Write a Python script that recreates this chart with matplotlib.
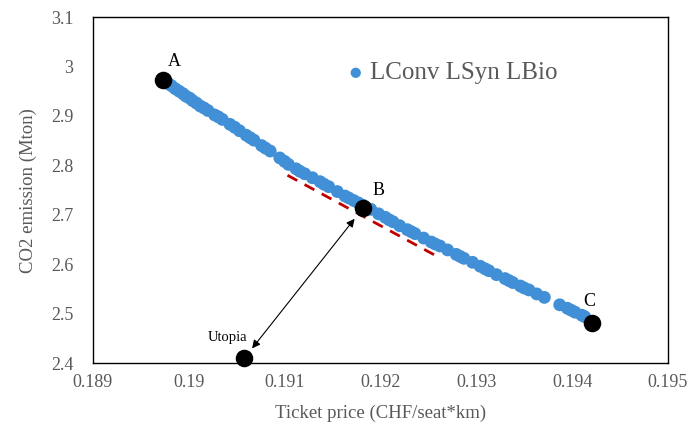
import matplotlib
matplotlib.use("Agg")
import matplotlib.pyplot as plt

plt.rcParams['font.family'] = ['Liberation Serif', 'DejaVu Serif']

# Pareto front points (LConv LSyn LBio)
price = [0.18975, 0.18979, 0.18982, 0.18986, 0.18990, 0.18994, 0.18997,
         0.19001, 0.19004, 0.19008, 0.19012,
         0.19016, 0.19020, 0.19027, 0.19031, 0.19035, 0.19043, 0.19048, 0.19053,
         0.19060, 0.19064, 0.19068, 0.19076, 0.19080, 0.19085, 0.19095,
         0.19100, 0.19104, 0.19112, 0.19116, 0.19121, 0.19129, 0.19137,
         0.19141, 0.19146, 0.19155, 0.19163, 0.19167, 0.19172, 0.19177, 0.19182,
         0.19190, 0.19198, 0.19205, 0.19209, 0.19213, 0.19220,
         0.19228, 0.19232, 0.19236, 0.19245, 0.19253, 0.19257, 0.19262,
         0.19270, 0.19279, 0.19283, 0.19287, 0.19296, 0.19304,
         0.19309, 0.19313, 0.19321, 0.19330, 0.19334, 0.19338, 0.19346,
         0.19350, 0.19355, 0.19363, 0.19371, 0.19387, 0.19395,
         0.19399, 0.19403, 0.19410, 0.19413]
emission = [2.969, 2.965, 2.961, 2.955, 2.950, 2.945, 2.940,
            2.936, 2.931, 2.926, 2.920,
            2.916, 2.911, 2.902, 2.898, 2.893, 2.883, 2.877, 2.870,
            2.861, 2.856, 2.851, 2.840, 2.835, 2.829, 2.815,
            2.808, 2.802, 2.793, 2.788, 2.783, 2.775, 2.767,
            2.762, 2.757, 2.747, 2.738, 2.734, 2.729, 2.724, 2.719,
            2.711, 2.702, 2.695, 2.690, 2.686, 2.678,
            2.670, 2.666, 2.662, 2.653, 2.645, 2.641, 2.637,
            2.629, 2.620, 2.616, 2.612, 2.604, 2.596,
            2.591, 2.587, 2.579, 2.571, 2.567, 2.563, 2.556,
            2.552, 2.548, 2.540, 2.533, 2.518, 2.511,
            2.507, 2.503, 2.497, 2.494]

# special points
pt_x = [0.18973, 0.19182, 0.19421, 0.19058]
pt_y = [2.973, 2.714, 2.481, 2.410]

# tangent line at B
tan_x = [0.19103, 0.19260]
tan_y = [2.780, 2.615]

blue = "#418fd6"
gray = "#595959"

fig = plt.figure(figsize=(6.88, 4.37), dpi=100)
ax = fig.add_axes([0.135, 0.169, 0.836, 0.792])

ax.scatter(price, emission, s=85, color=blue, edgecolors="none",
           label="LConv LSyn LBio", zorder=3)
ax.plot(tan_x, tan_y, color="#c00000", linestyle=(0, (4, 3)), linewidth=2, zorder=2)
ax.scatter(pt_x, pt_y, s=135, color="black", zorder=4, clip_on=False)

# double arrow between utopia and B
ax.annotate("", xy=(pt_x[1], pt_y[1]), xytext=(pt_x[3], pt_y[3]),
            arrowprops=dict(arrowstyle="<|-|>", color="black", lw=0.8,
                            shrinkA=9, shrinkB=10, mutation_scale=12),
            zorder=5)

ax.text(0.18985, 3.010, "A", fontsize=13, ha="center", va="center")
ax.text(0.19198, 2.750, "B", fontsize=13, ha="center", va="center")
ax.text(0.19418, 2.525, "C", fontsize=13, ha="center", va="center")
ax.text(0.19040, 2.451, "Utopia", fontsize=10.5, ha="center", va="center")

ax.set_xlim(0.189, 0.195)
ax.set_ylim(2.4, 3.1)
ax.set_xticks([0.189, 0.19, 0.191, 0.192, 0.193, 0.194, 0.195])
ax.set_xticklabels(["0.189", "0.19", "0.191", "0.192", "0.193", "0.194", "0.195"])
ax.set_yticks([2.4, 2.5, 2.6, 2.7, 2.8, 2.9, 3.0, 3.1])
ax.set_yticklabels(["2.4", "2.5", "2.6", "2.7", "2.8", "2.9", "3", "3.1"])
ax.tick_params(axis="both", length=0, labelsize=13, labelcolor=gray)
ax.tick_params(axis="x", pad=8)
ax.tick_params(axis="y", pad=14)

for sp in ax.spines.values():
    sp.set_color("black")
    sp.set_linewidth(1.0)

ax.set_xlabel("Ticket price (CHF/seat*km)", fontsize=13.5, color=gray)
ax.set_ylabel("CO2 emission (Mton)", fontsize=13.5, color=gray)
ax.xaxis.set_label_coords(0.5, -0.12)
ax.yaxis.set_label_coords(-0.097, 0.5)

ax.legend(loc="center left", bbox_to_anchor=(0.444, 0.838), frameon=False,
          fontsize=18, handlelength=0.6, handletextpad=0.25, borderpad=0,
          borderaxespad=0, labelcolor=gray, markerscale=0.8)

fig.savefig("out.png", dpi=100)
